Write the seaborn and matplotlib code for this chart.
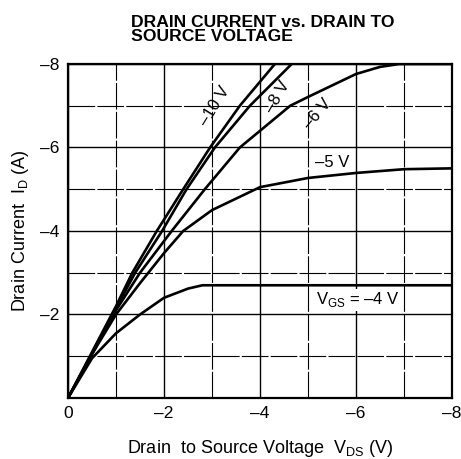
import pandas as pd
import matplotlib
matplotlib.use("Agg")
import matplotlib.pyplot as plt
import seaborn as sns

# Curves (V_DS in V, I_D in A), one per gate voltage
vds_10 = [0, -0.5, -1.0, -1.34, -1.85, -2.4, -2.96, -3.58, -4.31]
id_10 = [0, -1.1, -2.2, -3.0, -4.0, -5.0, -6.0, -7.0, -8.0]

vds_8 = [0, -0.5, -1.0, -1.4, -1.96, -2.47, -3.06, -3.79, -4.66]
id_8 = [0, -1.05, -2.15, -3.0, -4.0, -5.0, -6.0, -7.0, -8.0]

vds_6 = [0, -0.5, -1.0, -1.5, -2.16, -2.85, -3.58, -4.63, -5.0, -6.0, -6.5, -6.9, -8.0]
id_6 = [0, -1.05, -2.1, -3.0, -4.0, -5.0, -6.0, -7.0, -7.21, -7.76, -7.93, -8.0, -8.0]

vds_5 = [0, -0.5, -1.0, -1.5, -2.0, -2.4, -3.0, -4.0, -5.0, -6.0, -7.0, -8.0]
id_5 = [0, -1.05, -2.0, -2.75, -3.47, -4.0, -4.5, -5.05, -5.27, -5.39, -5.48, -5.5]

vds_4 = [0, -0.5, -1.0, -1.5, -2.0, -2.5, -2.8, -8.0]
id_4 = [0, -0.95, -1.55, -2.0, -2.4, -2.62, -2.7, -2.7]

curves = [(vds_10, id_10), (vds_8, id_8), (vds_6, id_6), (vds_5, id_5), (vds_4, id_4)]

x_ticks = [0, -2, -4, -6, -8]
y_ticks = [-2, -4, -6, -8]

sns.set_theme(style="white")
plt.rcParams['font.family'] = ['Liberation Sans', 'DejaVu Sans']
plt.rcParams['mathtext.fontset'] = 'custom'
plt.rcParams['mathtext.rm'] = 'Liberation Sans'
plt.rcParams['text.color'] = 'black'
plt.rcParams['axes.labelcolor'] = 'black'
plt.rcParams['xtick.color'] = 'black'
plt.rcParams['ytick.color'] = 'black'

fig = plt.figure(figsize=(4.61, 4.59), dpi=100)
ax = fig.add_axes([0.1475, 0.1329, 0.833, 0.7277])

for vds, i_d in curves:
    df = pd.DataFrame({'vds': vds, 'id': i_d})
    sns.lineplot(ax=ax, data=df, x='vds', y='id', color='black', lw=1.9,
                 sort=False, estimator=None)

ax.set_xlim(0, -8)
ax.set_ylim(0, -8)
ax.set_xticks(x_ticks)
ax.set_yticks(y_ticks)
ax.set_xticks([-1, -3, -5, -7], minor=True)
ax.set_yticks([-1, -3, -5, -7], minor=True)
ax.set_xticklabels([f"\u2013{abs(v)}" if v else "0" for v in x_ticks], fontsize=12.5)
ax.set_yticklabels([f"\u2013{abs(v)}" for v in y_ticks], fontsize=12.5)
ax.tick_params(which='both', length=0, pad=6)
ax.grid(which='major', color='black', lw=1.0)
ax.grid(which='minor', color='black', lw=0.8, ls=(0, (24, 2)))
for s in ax.spines.values():
    s.set_color('black')
    s.set_linewidth(1.6)

ax.set_xlabel(r"Drain  to Source Voltage  V$_{\rm DS}$ (V)", fontsize=13, labelpad=12)
ax.set_ylabel(r"Drain Current  I$_{\rm D}$ (A)", fontsize=13, labelpad=7)

fig.text(0.284, 0.968, "DRAIN CURRENT vs. DRAIN TO\nSOURCE VOLTAGE", fontsize=12.6,
         fontweight='bold', ha='left', va='top', linespacing=0.92)

# Gate voltage labels
ax.text(-3.06, -7.0, "\u201310 V", fontsize=12, rotation=58, ha='center', va='center')
ax.text(-4.37, -7.21, "\u20138 V", fontsize=12, rotation=60, ha='center', va='center')
ax.text(-5.19, -6.8, "\u20136 V", fontsize=12, rotation=50, ha='center', va='center')
ax.text(-5.5, -5.65, "\u20135 V", fontsize=12, ha='center', va='center')
ax.text(-6.04, -2.35, "V$_{\\rm GS}$ = \u20134 V", fontsize=12,
        ha='center', va='center', bbox=dict(fc='white', ec='none', pad=1))

fig.savefig("out.png", dpi=100)
